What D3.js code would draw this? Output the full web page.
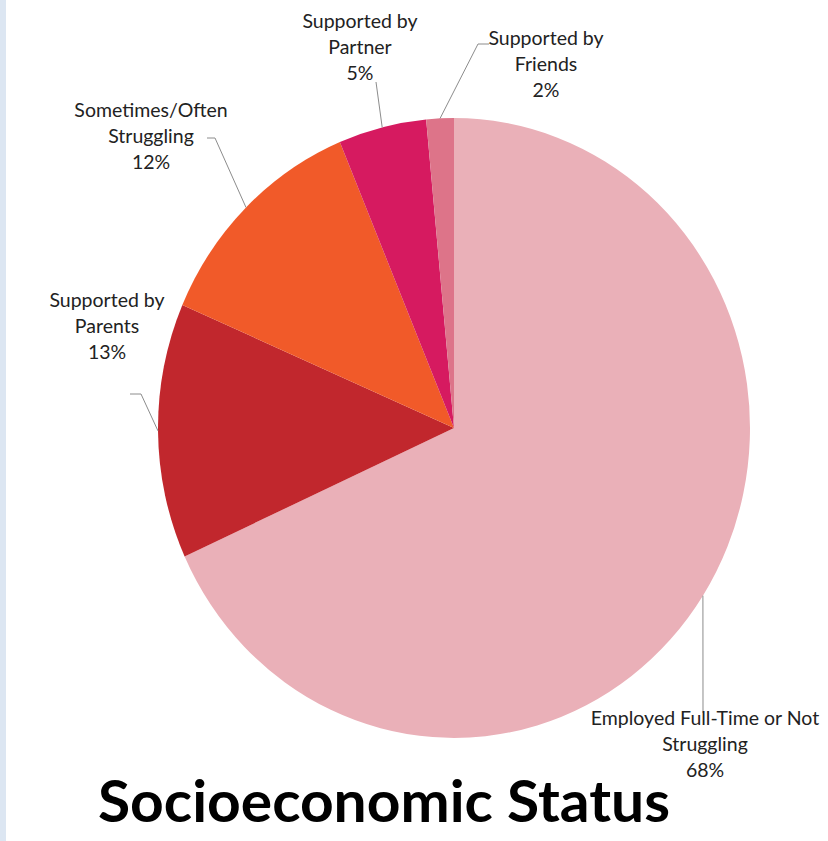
<!DOCTYPE html>
<html>
<head>
<meta charset="utf-8">
<script src="https://cdn.jsdelivr.net/npm/d3@7"></script>
<style>
    body { margin: 0; background: #fff; }
    text { font-family: Lato, "Open Sans", sans-serif; }
</style>
</head>
<body>
<div id="chart"></div>
<script>
// Slices, clockwise from 12 o'clock
const categories = [
    "Employed Full-Time or Not|Struggling",
    "Supported by|Parents",
    "Sometimes/Often|Struggling",
    "Supported by|Partner",
    "Supported by|Friends"
];
const values = [68.2, 13.3, 12.2, 4.8, 1.5];
const colors = ["#eab0b8", "#c1272d", "#f15a29", "#d61a60", "#dd7489"];
const title = "Socioeconomic Status";

// label centre x, first baseline y, and the label-side end of the leader line
const labelLayout = [
    { x: 705, y: 725, leader: [[703, 713]] },
    { x: 107, y: 307, leader: [[130, 394], [141, 394]] },
    { x: 151, y: 117, leader: [[207, 138], [215, 138]] },
    { x: 360, y: 28,  leader: [[376, 82]] },
    { x: 546, y: 45,  leader: [[489, 44], [478, 44]] }
];

const width = 828;
const height = 841;
const cx = 454, cy = 428;
const radius = 296;
const yStretch = 1.047;   // the picture is a bit taller than wide
const lineGap = 26;

const svg = d3.select("#chart").append("svg")
    .attr("width", width)
    .attr("height", height);

// light blue strip on the left edge
svg.append("rect")
    .attr("x", 0).attr("y", 0)
    .attr("width", 6).attr("height", height)
    .attr("fill", "#dce6f2");

const data = categories.map((c, i) => ({ name: c, value: values[i], color: colors[i] }));

const pie = d3.pie().sort(null).value(d => d.value);
const arcs = pie(data);

const arc = d3.arc().innerRadius(0).outerRadius(radius);
const edge = d3.arc().innerRadius(radius).outerRadius(radius);

const g = svg.append("g")
    .attr("transform", `translate(${cx},${cy}) scale(1,${yStretch})`);

g.selectAll("path")
    .data(arcs)
    .join("path")
    .attr("d", arc)
    .attr("fill", d => d.data.color);

// leader lines
const line = d3.line();
svg.append("g")
    .selectAll("path")
    .data(arcs)
    .join("path")
    .attr("d", (d, i) => {
        const [ex, ey] = edge.centroid(d);
        const pts = labelLayout[i].leader.slice();
        pts.push([cx + ex, cy + ey * yStretch]);
        return line(pts);
    })
    .attr("fill", "none")
    .attr("stroke", "#8c8c8c")
    .attr("stroke-width", 1);

// labels
const labels = svg.append("g")
    .selectAll("text")
    .data(arcs)
    .join("text")
    .attr("text-anchor", "middle")
    .attr("font-size", 19.5)
    .attr("fill", "#222");

labels.each(function(d, i) {
    const t = d3.select(this);
    const lines = d.data.name.split("|").concat([Math.round(d.data.value) + "%"]);
    lines.forEach((s, k) => {
        t.append("tspan")
            .attr("x", labelLayout[i].x)
            .attr("y", labelLayout[i].y + k * lineGap)
            .text(s);
    });
});

svg.append("text")
    .attr("x", 98)
    .attr("y", 822)
    .attr("font-size", 57)
    .attr("font-weight", "bold")
    .attr("fill", "#000")
    .attr("textLength", 572)
    .attr("lengthAdjust", "spacingAndGlyphs")
    .text(title);
</script>
</body>
</html>
